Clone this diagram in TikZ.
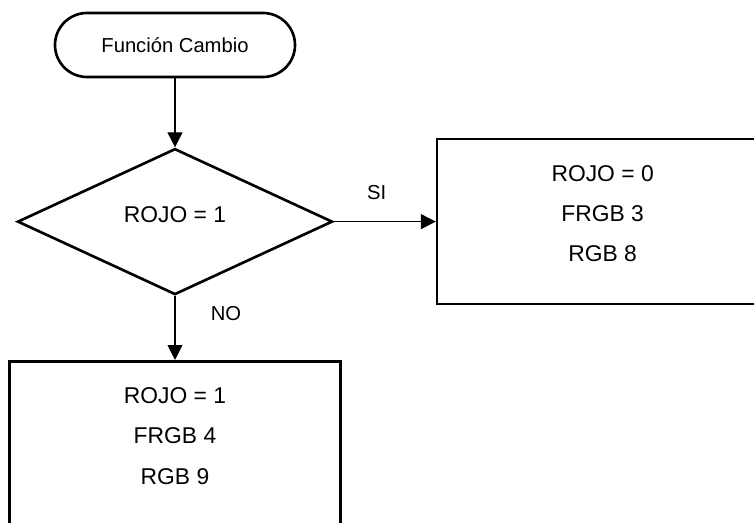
\documentclass[tikz,border=0pt]{standalone}
\usepackage{fontspec}
\setmainfont{Liberation Sans}
\usetikzlibrary{arrows.meta, positioning, shapes.geometric}
\definecolor{bdr}{HTML}{000000}
\tikzset{
  % start terminal (pill)
  T/.style={draw=bdr, line width=1.5pt, rounded corners=0.64cm,
    minimum width=4.8cm, minimum height=1.28cm,
    font=\fontsize{11.5pt}{13pt}\selectfont},
  % decision diamond (text sits a little above the middle)
  D/.style={diamond, draw=bdr, line width=1.5pt, aspect=2.16,
    minimum width=6.3cm, minimum height=2.92cm, inner sep=0pt,
    text height=9.3pt, text depth=8pt,
    font=\fontsize{13pt}{15pt}\selectfont},
  % process boxes
  P/.style={draw=bdr, line width=1.5pt, minimum width=6.62cm, minimum height=3.3cm},
  Ptxt/.style={align=center, font=\fontsize{13pt}{23pt}\selectfont},
  A/.style={-{Triangle[length=8.5pt,width=8.5pt]}, line width=0.6pt, draw=bdr},
  lbl/.style={font=\fontsize{11.5pt}{13pt}\selectfont},
}
\begin{document}
\begin{tikzpicture}
\useasboundingbox (0,0) rectangle (15.08,-10.46);
\clip (0,0) rectangle (15.08,-10.46);

% =====================================================================
% FLOW  (start -> decision -> SI / NO)
% =====================================================================

\node[T] (inicio) at (3.5,-0.9) {Función Cambio};

\node[D, below=1.38cm of inicio] (rojo) {ROJO = 1};
\draw[A] (inicio) -- (rojo);

\node[P, right=2.04cm of rojo] (si) {};
\node[Ptxt] (siTxt) at ([yshift=0.16cm]si.center) {ROJO = 0\\FRGB 3\\RGB 8};
\draw[A] (rojo) -- node[lbl, pos=0.42, yshift=0.58cm] {SI} (si);

\node[P, below=1.28cm of rojo] (no) {};
\node[Ptxt] (noTxt) at ([yshift=0.16cm]no.center) {ROJO = 1\\FRGB 4\\RGB 9};
\draw[A] (rojo) -- node[lbl, pos=0.28, xshift=1.02cm] {NO} (no);

\end{tikzpicture}
\end{document}
